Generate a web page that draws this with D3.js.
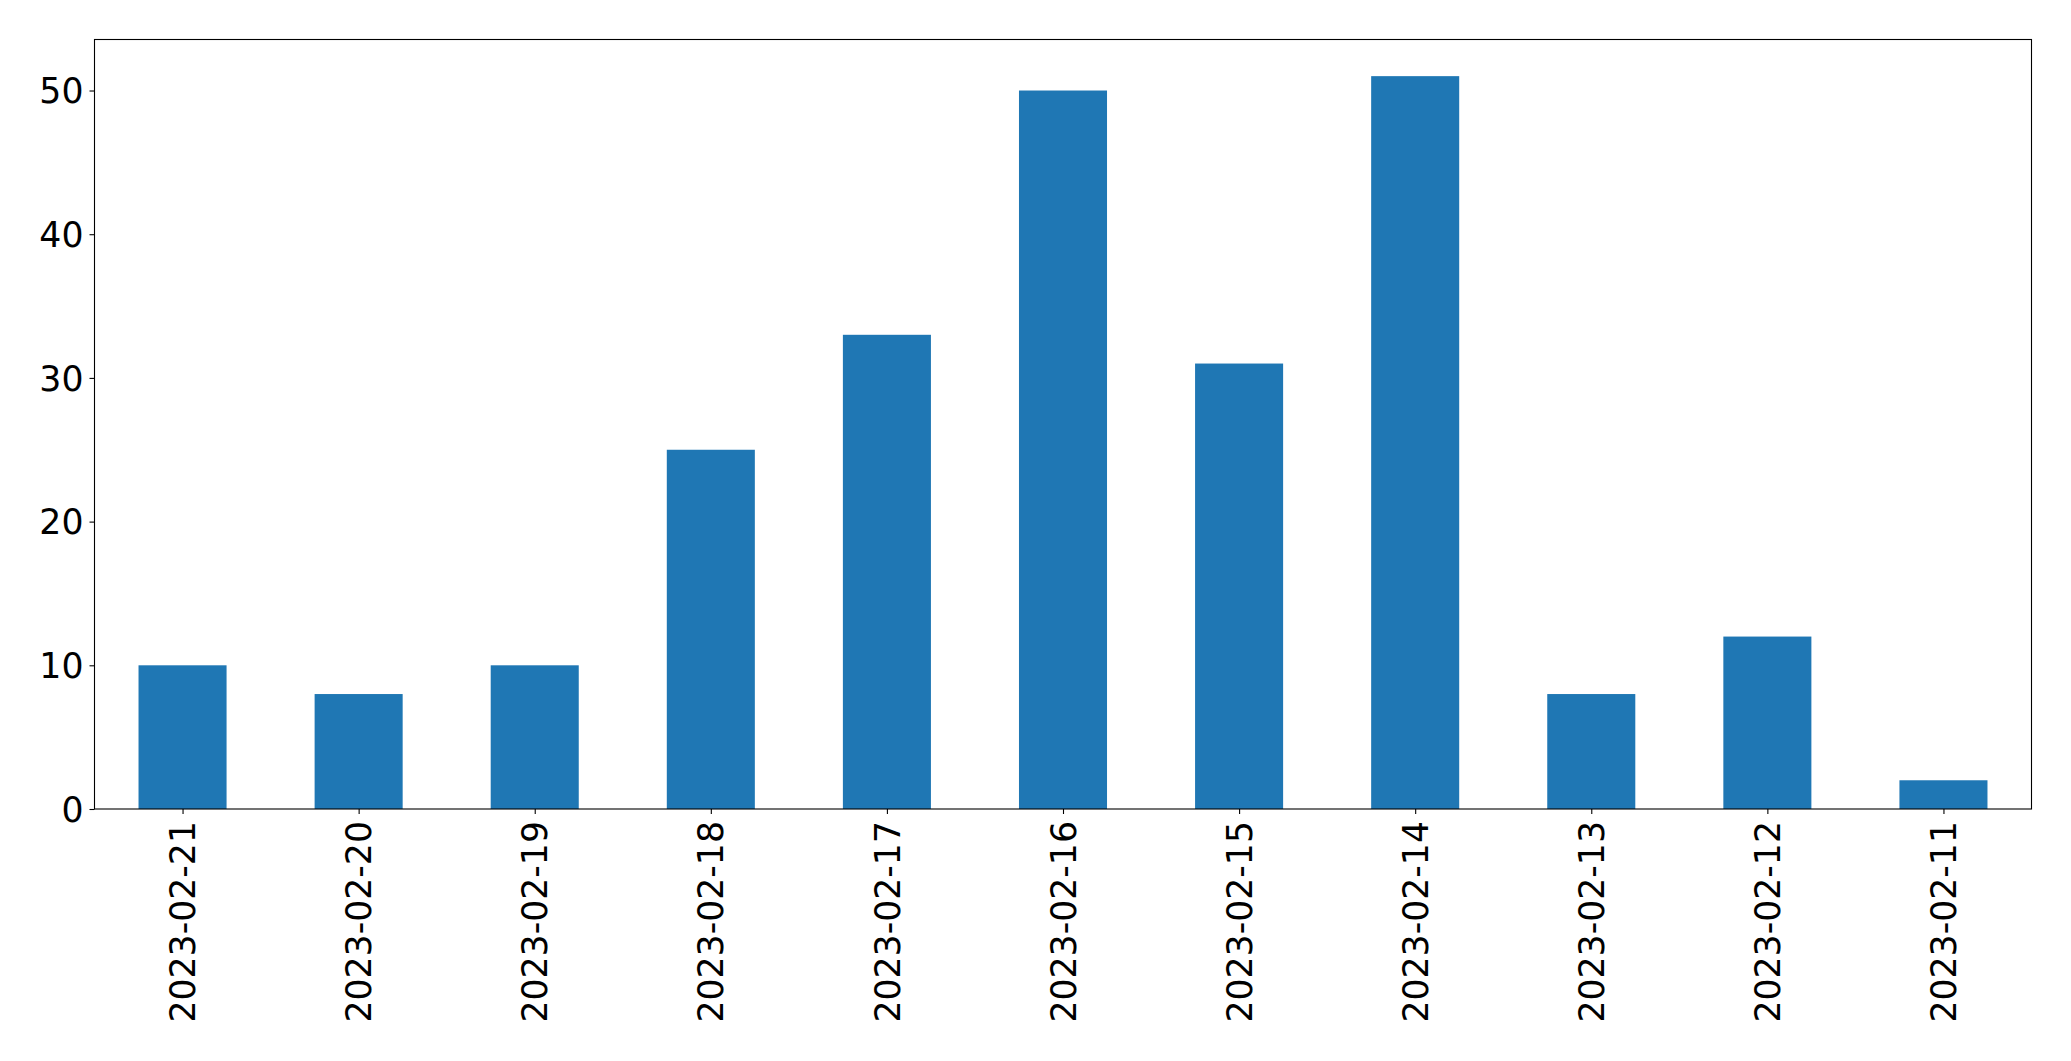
<!DOCTYPE html>
<html>
<head>
<meta charset="utf-8">
<script src="https://cdn.jsdelivr.net/npm/d3@7"></script>
<style>
  html, body { margin: 0; padding: 0; background: #fff; }
  svg { display: block; }
  text { font-family: "DejaVu Sans", sans-serif; fill: #000; }
</style>
</head>
<body>
<svg id="chart" width="2071" height="1061"></svg>
<script>
const categories = ["2023-02-21","2023-02-20","2023-02-19","2023-02-18","2023-02-17","2023-02-16","2023-02-15","2023-02-14","2023-02-13","2023-02-12","2023-02-11"];
const values = [10, 8, 10, 25, 33, 50, 31, 51, 8, 12, 2];
const yTicks = [0, 10, 20, 30, 40, 50];

const W = 2071, H = 1061;
const m = { left: 94.5, right: 2031.5, top: 39.5, bottom: 809 };
const svg = d3.select("#chart");
const FS = 34.7;

const x = d3.scaleLinear().domain([-0.5, categories.length - 0.5]).range([m.left, m.right]);
const yMax = d3.max(values) * 1.05;
const y = d3.scaleLinear().domain([0, yMax]).range([m.bottom, m.top]);
const step = x(1) - x(0);
const barW = step * 0.5;

// bars
svg.append("g").selectAll("rect").data(values).join("rect")
  .attr("x", (d, i) => x(i) - barW / 2)
  .attr("width", barW)
  .attr("y", d => y(d))
  .attr("height", d => y(0) - y(d))
  .attr("fill", "#1f77b4");

// y axis
const yAxis = d3.axisLeft(y).tickValues(yTicks).tickFormat(d3.format("d")).tickSize(5).tickPadding(6);
const gy = svg.append("g").attr("transform", `translate(${m.left},0)`).call(yAxis);
gy.select(".domain").remove();
gy.selectAll(".tick line").attr("stroke", "#000").attr("stroke-width", 1.1);
gy.selectAll(".tick text").attr("font-size", FS).attr("font-family", "DejaVu Sans").attr("fill", "#000").attr("dy", "0.35em");

// x axis
const xAxis = d3.axisBottom(x).tickValues(d3.range(categories.length)).tickFormat(i => categories[i]).tickSize(5).tickPadding(0);
const gx = svg.append("g").attr("transform", `translate(0,${m.bottom})`).call(xAxis);
gx.select(".domain").remove();
gx.selectAll(".tick line").attr("stroke", "#000").attr("stroke-width", 1.1);
gx.selectAll(".tick text")
  .attr("font-size", FS).attr("font-family", "DejaVu Sans").attr("fill", "#000")
  .attr("text-anchor", "end")
  .attr("transform", "translate(0,12) rotate(-90)")
  .attr("x", 0).attr("y", 0).attr("dy", "0.35em");

// frame
svg.append("rect")
  .attr("x", m.left).attr("y", m.top)
  .attr("width", m.right - m.left).attr("height", m.bottom - m.top)
  .attr("fill", "none").attr("stroke", "#000").attr("stroke-width", 1.1);
</script>
</body>
</html>
